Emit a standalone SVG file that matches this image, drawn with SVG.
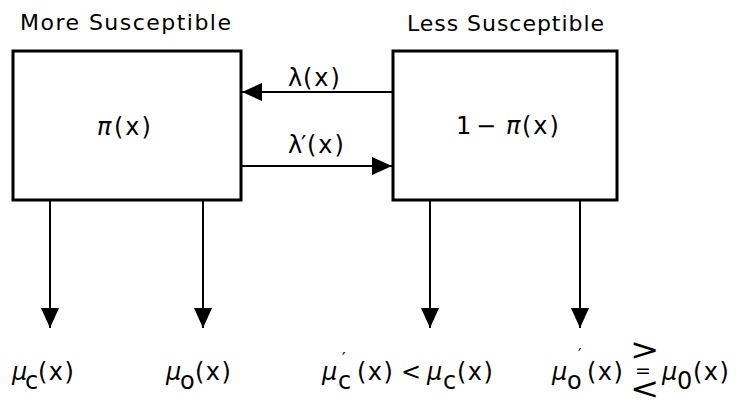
<svg xmlns="http://www.w3.org/2000/svg" width="736" height="401" viewBox="0 0 736 401">
<style>
text{font-family:"DejaVu Sans","Liberation Sans",sans-serif;fill:#000}
.title{font-size:22px}
.lab{font-size:24px}
.it{font-style:italic}
.box{fill:#fff;stroke:#000;stroke-width:3}
.conn{stroke:#000;stroke-width:2;fill:none}
.pr{font-size:16px}
.rel{font-size:28px}
</style>
<defs>
<marker id="ah" markerUnits="userSpaceOnUse" markerWidth="20" markerHeight="18" refX="20" refY="9" orient="auto" viewBox="0 0 20 18">
<path d="M0,0 L20,9 L0,18 Z" fill="#000"/>
</marker>
</defs>
<g id="more">
<text class="title" x="20" y="30" textLength="211" lengthAdjust="spacing">More Susceptible</text>
<rect class="box" x="13" y="51" width="228" height="149"/>
<text class="lab" y="135"><tspan x="97" class="it">π</tspan><tspan x="114" letter-spacing="2">(x)</tspan></text>
</g>
<g id="less">
<text class="title" x="407" y="31" textLength="197" lengthAdjust="spacing">Less Susceptible</text>
<rect class="box" x="393" y="51" width="224" height="149"/>
<text class="lab" y="134"><tspan x="456">1</tspan><tspan x="476">−</tspan><tspan x="506" class="it">π</tspan><tspan x="522" letter-spacing="2">(x)</tspan></text>
</g>
<g id="connectors">
<line class="conn" x1="393" y1="92" x2="242" y2="92" marker-end="url(#ah)"/>
<line class="conn" x1="241" y1="166" x2="392" y2="166" marker-end="url(#ah)"/>
<line class="conn" x1="50" y1="200" x2="50" y2="328" marker-end="url(#ah)"/>
<line class="conn" x1="203" y1="200" x2="203" y2="328" marker-end="url(#ah)"/>
<line class="conn" x1="430" y1="200" x2="430" y2="328" marker-end="url(#ah)"/>
<line class="conn" x1="580" y1="200" x2="580" y2="328" marker-end="url(#ah)"/>
<text class="lab" y="86" font-size="22"><tspan x="288">λ</tspan><tspan x="303" letter-spacing="2">(x)</tspan></text>
<text class="lab" y="153" font-size="22"><tspan x="288">λ</tspan><tspan x="301">′</tspan><tspan x="307" letter-spacing="2">(x)</tspan></text>
</g>
<g id="mu-c">
<text class="lab" y="380"><tspan x="12" class="it">μ</tspan><tspan x="25" dy="9">c</tspan><tspan x="38" dy="-9" letter-spacing="1.5">(x)</tspan></text>
</g>
<g id="mu-o">
<text class="lab" y="380"><tspan x="166" class="it">μ</tspan><tspan x="180" dy="9">o</tspan><tspan x="195" dy="-9" letter-spacing="1.5">(x)</tspan></text>
</g>
<g id="mu-c-prime">
<text class="lab" y="380"><tspan x="322" class="it">μ</tspan><tspan x="338" dy="9">c</tspan><tspan x="357" dy="-9" letter-spacing="1.5">(x)</tspan><tspan x="401">&lt;</tspan><tspan x="427" class="it">μ</tspan><tspan x="443" dy="9">c</tspan><tspan x="457" dy="-9" letter-spacing="1.5">(x)</tspan></text>
<text class="pr" x="342" y="364">′</text>
</g>
<g id="mu-o-prime">
<text class="lab" y="380"><tspan x="552" class="it">μ</tspan><tspan x="567" dy="9">o</tspan><tspan x="587" dy="-9" letter-spacing="1.5">(x)</tspan><tspan x="662" class="it">μ</tspan><tspan x="677" dy="9">0</tspan><tspan x="693" dy="-9" letter-spacing="1.5">(x)</tspan></text>
<text class="pr" x="578" y="360">′</text>
<text class="rel" transform="translate(630,360) scale(1.25,1.1)">&gt;</text>
<text font-size="19" transform="translate(635,377)">=</text>
<text class="rel" transform="translate(630,399) scale(1.25,1.1)">&lt;</text>
</g>
</svg>
